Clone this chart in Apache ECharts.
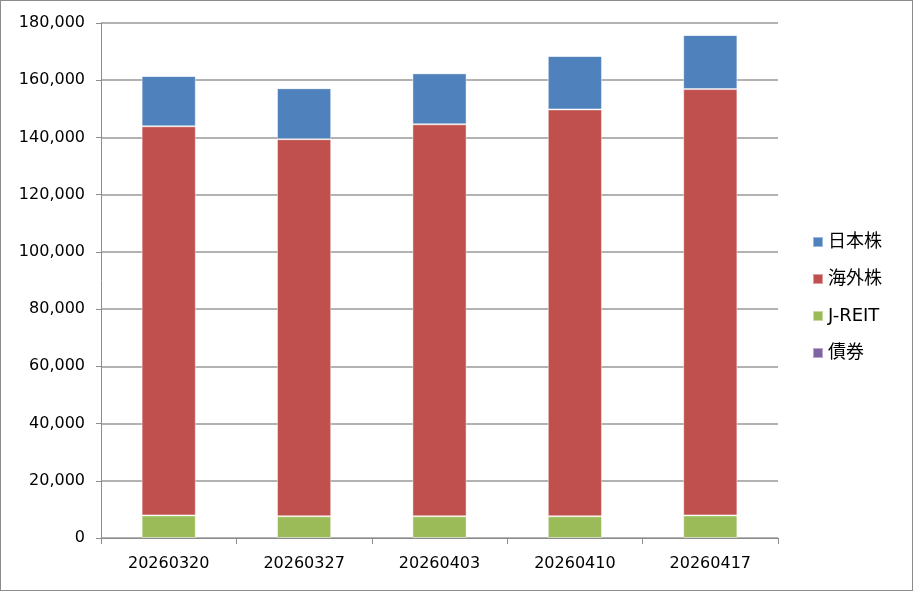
<!DOCTYPE html>
<html><head><meta charset="utf-8">
<script src="https://cdn.jsdelivr.net/npm/echarts@6/dist/echarts.min.js"></script>
<style>html,body{margin:0;padding:0;background:#fff}#c{width:913px;height:591px;box-sizing:border-box;border:1px solid #8c8c8c}</style>
</head><body><div id="c"></div>
<script>
const categories = ['20260320','20260327','20260403','20260410','20260417'];
const jreit = [7900, 7600, 7600, 7600, 7900];
const overseas = [136000, 131800, 137000, 142200, 149000];
const japan = [17600, 17800, 17800, 18700, 18900];
const bonds = [0, 0, 0, 0, 0];
const seriesNames = ['日本株','海外株','J-REIT','債券'];
const colors = ['#4f81bd','#c0504d','#9bbb59','#8064a2'];

const chart = echarts.init(document.getElementById('c'), null, {renderer:'canvas'});
const font = '"DejaVu Sans", "Noto Sans CJK JP", sans-serif';
function s(name, data, color){
  return {name, type:'bar', stack:'a', data, barWidth:'40%',
    itemStyle:{color, borderColor:'rgba(255,255,255,0.45)', borderWidth:1}};
}
chart.setOption({
  animation:false,
  textStyle:{fontFamily:font},
  grid:{left:100, right:134, top:22, bottom:52, containLabel:false},
  legend:{
    orient:'vertical', left:806, top:227, itemGap:19,
    itemWidth:10, itemHeight:10, icon:'rect',
    data:seriesNames,
    textStyle:{fontSize:18, color:'#000', fontFamily:font}
  },
  xAxis:{type:'category', data:categories,
    axisLine:{lineStyle:{color:'#8c8c8c', width:1}},
    axisTick:{show:true, length:6, alignWithLabel:false, lineStyle:{color:'#8c8c8c'}},
    axisLabel:{fontSize:16, color:'#000', margin:18, fontFamily:font}
  },
  yAxis:{type:'value', min:0, max:180000, interval:20000,
    axisLine:{show:true, lineStyle:{color:'#8c8c8c'}},
    axisTick:{show:true, length:5, lineStyle:{color:'#8c8c8c'}},
    splitLine:{lineStyle:{color:'#999', width:1.5}},
    axisLabel:{fontSize:16, color:'#000', margin:16, fontFamily:font,
      formatter:v=>v===0?'0':v.toLocaleString('en-US')}
  },
  series:[
    s('J-REIT', jreit, colors[2]),
    s('海外株', overseas, colors[1]),
    s('日本株', japan, colors[0]),
    s('債券', bonds, colors[3])
  ]
});
</script></body></html>
